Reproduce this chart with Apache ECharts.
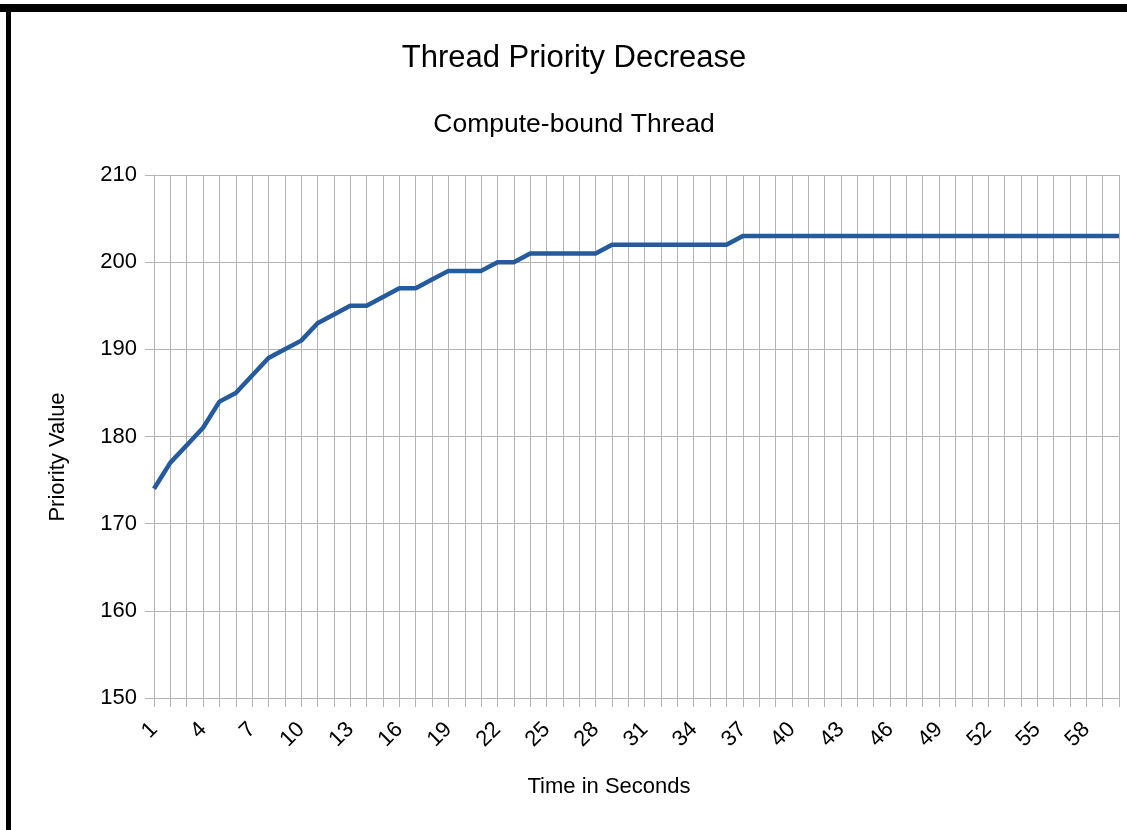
<!DOCTYPE html>
<html>
<head>
<meta charset="utf-8">
<script src="https://cdn.jsdelivr.net/npm/echarts@6/dist/echarts.min.js"></script>
<style>
  html, body { margin: 0; padding: 0; background: #fff; }
  #chart { width: 1127px; height: 830px; }
</style>
</head>
<body>
<div id="chart"></div>
<script>
// ---- Data ----
const titleText = 'Thread Priority Decrease';
const subtitleText = 'Compute-bound Thread';
const xAxisTitle = 'Time in Seconds';
const yAxisTitle = 'Priority Value';

const seconds = [];
for (let s = 1; s <= 60; s++) seconds.push(String(s));

const priority = [
  174, 177, 179, 181, 184, 185, 187, 189, 190, 191,
  193, 194, 195, 195, 196, 197, 197, 198, 199, 199,
  199, 200, 200, 201, 201, 201, 201, 201, 202, 202,
  202, 202, 202, 202, 202, 202, 203, 203, 203, 203,
  203, 203, 203, 203, 203, 203, 203, 203, 203, 203,
  203, 203, 203, 203, 203, 203, 203, 203, 203, 203
];

const yMin = 150, yMax = 210, yStep = 10;

const chart = echarts.init(document.getElementById('chart'), null, { renderer: 'canvas' });
const FONT = '"Liberation Sans", Arial, sans-serif';
const GRID = '#b3b3b3';

chart.setOption({
  backgroundColor: '#ffffff',
  animation: false,
  title: [
    { text: titleText, left: 569, top: 38, textAlign: 'center',
      textStyle: { fontFamily: FONT, fontSize: 31, fontWeight: 'normal', color: '#000' } },
    { text: subtitleText, left: 569, top: 106, textAlign: 'center',
      textStyle: { fontFamily: FONT, fontSize: 26.5, fontWeight: 'normal', color: '#000' } }
  ],
  grid: { left: 154, right: 8, top: 175, bottom: 132, containLabel: false },
  xAxis: {
    type: 'category',
    data: seconds,
    boundaryGap: false,
    axisLine: { show: true, lineStyle: { color: GRID, width: 1 } },
    axisTick: { show: true, interval: 0, length: 9, lineStyle: { color: GRID } },
    splitLine: { show: true, interval: 0, lineStyle: { color: GRID, width: 1 } },
    axisLabel: { interval: 2, rotate: 45, margin: 28, fontFamily: FONT, fontSize: 22, color: '#000' }
  },
  yAxis: {
    type: 'value',
    min: yMin, max: yMax, interval: yStep,
    axisLine: { show: true, lineStyle: { color: GRID, width: 1 } },
    axisTick: { show: true, length: 9, lineStyle: { color: GRID } },
    splitLine: { show: true, lineStyle: { color: GRID, width: 1 } },
    axisLabel: { margin: 17, fontFamily: FONT, fontSize: 22, color: '#000' }
  },
  series: [{
    type: 'line',
    data: priority,
    showSymbol: false,
    symbol: 'none',
    lineStyle: { color: '#255b9c', width: 4.5 },
    itemStyle: { color: '#255b9c' }
  }],
  graphic: [
    { type: 'rect', left: 0, top: 4, shape: { width: 1127, height: 8 }, style: { fill: '#000' } },
    { type: 'rect', left: 6, top: 4, shape: { width: 5, height: 826 }, style: { fill: '#000' } },
    { type: 'text', x: 609, y: 787,
      style: { text: xAxisTitle, fontFamily: FONT, fontSize: 22, fill: '#000', align: 'center', verticalAlign: 'middle' } },
    { type: 'text', x: 58, y: 457, rotation: Math.PI / 2,
      style: { text: yAxisTitle, fontFamily: FONT, fontSize: 22, fill: '#000', align: 'center', verticalAlign: 'middle' } }
  ]
});
</script>
</body>
</html>
